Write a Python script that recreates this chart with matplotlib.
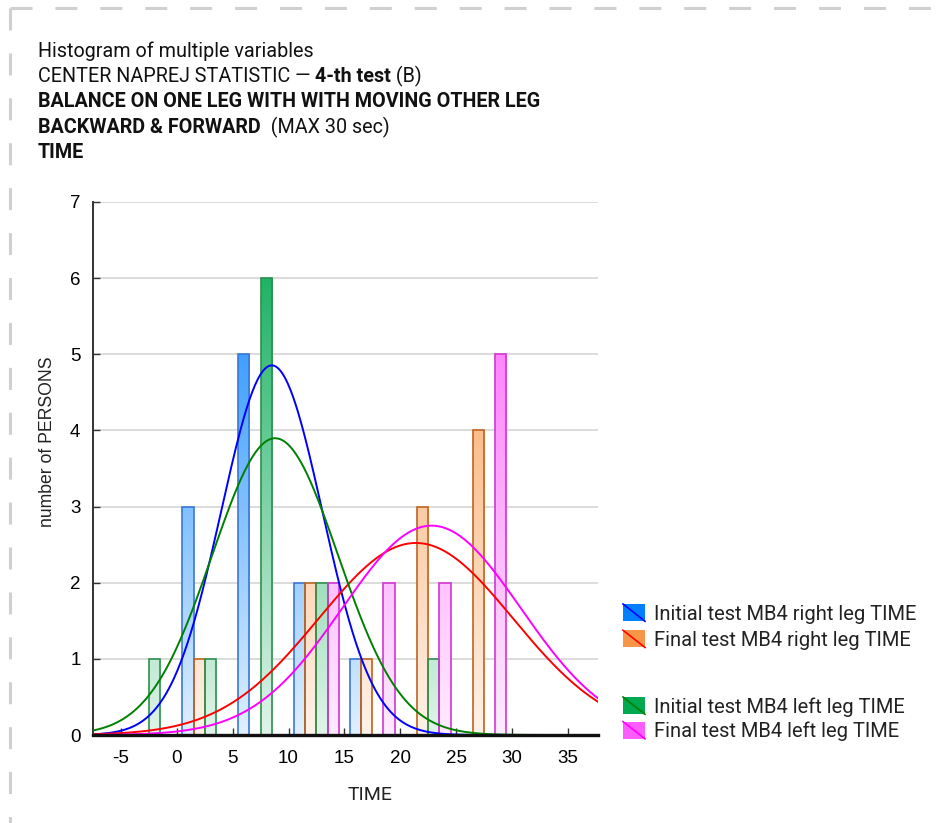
import numpy as np
import matplotlib
matplotlib.use("Agg")
import matplotlib.pyplot as plt
from matplotlib.patches import Rectangle
from matplotlib.lines import Line2D
from matplotlib.legend_handler import HandlerBase
from matplotlib.colors import to_rgb

plt.rcParams["axes.unicode_minus"] = False

# ---------------- data ----------------
bin_centers = [-2.5, 2.5, 7.5, 12.5, 17.5, 22.5, 27.5]
init_right = [0, 3, 5, 2, 1, 0, 0]
final_right = [0, 1, 0, 2, 1, 3, 4]
init_left = [1, 1, 6, 2, 0, 1, 0]
final_left = [0, 0, 0, 2, 2, 2, 5]
series_labels = ["Initial test MB4 right leg TIME", "Final test MB4 right leg TIME",
                 "Initial test MB4 left leg TIME", "Final test MB4 left leg TIME"]
# fitted normal curves (mean, sd), scaled by N * bin width
fit_means = [8.5, 21.4, 8.8, 22.8]
fit_sds = [4.52, 8.7, 5.63, 7.98]
n_persons = 11
bin_width = 5
x_ticks = [-5, 0, 5, 10, 15, 20, 25, 30, 35]
y_ticks = [0, 1, 2, 3, 4, 5, 6, 7]

# ---------------- style ----------------
W, H = 947, 823
fig = plt.figure(figsize=(W / 100, H / 100), dpi=100)
ax = fig.add_axes([93 / W, 1 - 735 / H, (598 - 93) / W, (735 - 202) / H])

fill_colors = ["#0080ff", "#f79646", "#00a84f", "#ff5cff"]
edge_colors = ["#3a78d6", "#c0631f", "#2f8f50", "#d236d2"]
curve_colors = ["#0000ff", "#ff0000", "#008000", "#ff00ff"]
offsets = [-1.5, -0.5, 0.5, 1.5]
XMIN, XMAX, YMAX = -7.5, 37.7, 7

all_series = [init_right, final_right, init_left, final_left]

def gradient_img(color):
    c = np.array(to_rgb(color))
    t = np.linspace(0.12, 1.0, 256)[:, None]
    rgb = t * c[None, :] + (1 - t) * 1.0
    return rgb[:, None, :]

for s, vals in enumerate(all_series):
    img = gradient_img(fill_colors[s])
    xs = [c + offsets[s] for c in bin_centers]
    bars = ax.bar(xs, vals, width=1.0, facecolor="none", edgecolor=edge_colors[s],
                  linewidth=1.2, zorder=3)
    for b, v in zip(bars, vals):
        if v <= 0:
            b.set_visible(False)
            continue
        im = ax.imshow(img, extent=[XMIN, XMAX, 0, YMAX], origin="lower",
                       aspect="auto", zorder=2, interpolation="bilinear")
        im.set_clip_path(b)

xx = np.linspace(XMIN, XMAX, 600)
for s in range(4):
    m, sd = fit_means[s], fit_sds[s]
    yy = n_persons * bin_width / (sd * np.sqrt(2 * np.pi)) * np.exp(-0.5 * ((xx - m) / sd) ** 2)
    ax.plot(xx, yy, color=curve_colors[s], lw=1.4, zorder=4)

ax.set_xlim(XMIN, XMAX)
ax.set_ylim(0, YMAX)
ax.set_xticks(x_ticks)
ax.set_yticks(y_ticks)
ax.yaxis.grid(True, color="#d9d9d9", lw=1.3)
ax.set_axisbelow(True)
for sp in ["top", "right"]:
    ax.spines[sp].set_visible(False)
ax.spines["left"].set_color("#333333")
ax.spines["left"].set_linewidth(1.4)
ax.spines["bottom"].set_color("#111111")
ax.spines["bottom"].set_linewidth(2.4)
ax.spines["bottom"].set_zorder(5)
ax.tick_params(axis="both", direction="in", length=5, width=1, color="#333333",
               labelsize=13.5, labelfontfamily="Liberation Sans")
ax.tick_params(axis="x", pad=11)
ax.tick_params(axis="y", pad=9)

fig.text(47 / W, 1 - 442 / H, "number of PERSONS", rotation=90, ha="center", va="center",
         fontsize=12.7, family="Liberation Sans", color="#222222")
fig.text(370 / W, 1 - 795 / H, "TIME", ha="center", va="center", fontsize=14,
         family="Roboto", color="#222222")

# ---------------- title ----------------
renderer = fig.canvas.get_renderer()
title_fs = 14.2

def rich_line(x_px, y_px, parts):
    x = x_px
    for text, weight in parts:
        t = fig.text(x / W, 1 - y_px / H, text, fontsize=title_fs, fontweight=weight,
                     family="Roboto", va="baseline", ha="left", color="#111111")
        bb = t.get_window_extent(renderer)
        x += bb.width

rich_line(38, 57, [("Histogram of multiple variables", "normal")])
rich_line(38, 82, [("CENTER NAPREJ STATISTIC \u2014 ", "normal"), ("4-th test", "bold"), (" (B)", "normal")])
rich_line(38, 107, [("BALANCE ON ONE LEG WITH WITH MOVING OTHER LEG", "bold")])
rich_line(38, 133, [("BACKWARD & FORWARD", "bold"), ("  (MAX 30 sec)", "normal")])
rich_line(38, 158, [("TIME", "bold")])

# ---------------- legend ----------------
class Key:
    def __init__(self, face, line):
        self.face, self.line = face, line

class KeyHandler(HandlerBase):
    def create_artists(self, legend, orig, xd, yd, width, height, fontsize, trans):
        r = Rectangle((-xd, -yd), width, height, facecolor=orig.face, edgecolor="none",
                      transform=trans)
        l = Line2D([-xd, -xd + width], [-yd + height, -yd], color=orig.line, lw=1.2,
                   transform=trans)
        return [r, l]

keys = [Key(fill_colors[i], curve_colors[i]) for i in range(4)]
lfs = 14.5
lpx = lfs * 100 / 72
legend_kw = dict(frameon=False, loc="upper left", handlelength=22 / lpx,
                 handleheight=19 / lpx, handletextpad=9 / lpx, borderpad=0,
                 borderaxespad=0, handler_map={Key: KeyHandler()},
                 prop={"family": "Roboto", "size": lfs})
leg1 = fig.legend(keys[:2], series_labels[:2], bbox_to_anchor=(623 / W, 1 - 604 / H),
                  labelspacing=0.33, **legend_kw)
leg2 = fig.legend(keys[2:], series_labels[2:], bbox_to_anchor=(623 / W, 1 - 697 / H),
                  labelspacing=0.25, **legend_kw)
for lg in (leg1, leg2):
    for t in lg.get_texts():
        t.set_color("#222222")

# ---------------- dashed frame ----------------
fig.add_artist(Line2D([10 / W, 1.0], [1 - 8 / H, 1 - 8 / H], color="#d0d0d0", lw=2.2,
                      dashes=(7.2, 7.5), transform=fig.transFigure))
fig.add_artist(Line2D([10 / W, 10 / W], [1 - 8 / H, 0.0], color="#d0d0d0", lw=2.2,
                      dashes=(7.2, 7.5), transform=fig.transFigure))

fig.savefig("out.png", dpi=100)
